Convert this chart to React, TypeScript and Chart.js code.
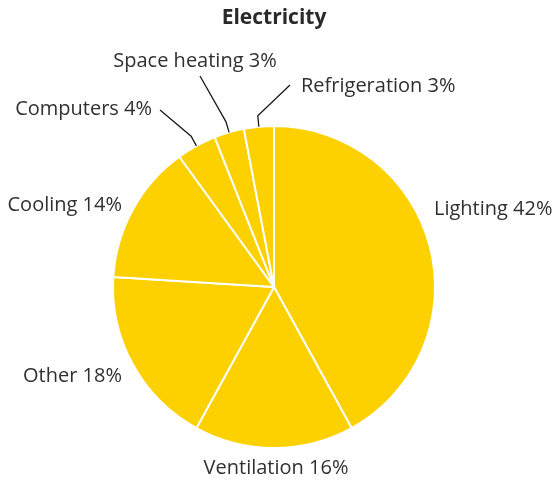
import React, { useEffect, useRef } from "react";
import { Chart, registerables } from "chart.js";

Chart.register(...registerables);

const categories = ["Lighting", "Ventilation", "Other", "Cooling", "Computers", "Space heating", "Refrigeration"];
const shares = [42, 16, 18, 14, 4, 3, 3];
const chartTitle = "Electricity";

// label layout relative to pie centre (px), with alignment and optional leader start
const labelLayout = [
  { dx: 160, dy: -78, align: "left" },
  { dx: 2, dy: 181, align: "center" },
  { dx: -152, dy: 89, align: "right" },
  { dx: -152, dy: -82, align: "right" },
  { dx: -122, dy: -178, align: "right", lx: -114, ly: -177 },
  { dx: -79, dy: -226, align: "center", lx: -74, ly: -211 },
  { dx: 27, dy: -201, align: "left", lx: 16, ly: -202 },
];

const FONT = '"Open Sans", "DejaVu Sans", sans-serif';

const labelPlugin = {
  id: "pieLabels",
  afterDraw(chart: any) {
    const ctx = chart.ctx;
    const meta = chart.getDatasetMeta(0);
    const first = meta.data[0];
    if (!first) return;
    const cx = first.x;
    const cy = first.y;
    ctx.save();
    // title
    ctx.fillStyle = "#2a2a2a";
    ctx.font = `bold 21px ${FONT}`;
    ctx.textAlign = "center";
    ctx.textBaseline = "middle";
    ctx.fillText(chartTitle, cx, 18);

    ctx.font = `20px ${FONT}`;
    meta.data.forEach((arc: any, i: number) => {
      const L = labelLayout[i];
      const text = `${categories[i]} ${shares[i]}%`;
      ctx.fillStyle = "#303030";
      ctx.textAlign = L.align;
      ctx.textBaseline = "middle";
      ctx.fillText(text, cx + L.dx, cy + L.dy);
      if (L.lx !== undefined) {
        const mid = (arc.startAngle + arc.endAngle) / 2;
        const r = arc.outerRadius;
        const ex = cx + Math.cos(mid) * r;
        const ey = cy + Math.sin(mid) * r;
        const bx = cx + Math.cos(mid) * (r + 11);
        const by = cy + Math.sin(mid) * (r + 11);
        ctx.strokeStyle = "#1a1a1a";
        ctx.lineWidth = 1.3;
        ctx.beginPath();
        ctx.moveTo(cx + L.lx, cy + L.ly);
        ctx.lineTo(bx, by);
        ctx.lineTo(ex, ey);
        ctx.stroke();
      }
    });
    ctx.restore();
  },
};

export default function App() {
  const ref = useRef<HTMLCanvasElement>(null);
  useEffect(() => {
    document.body.style.margin = "0";
    const chart = new Chart(ref.current as HTMLCanvasElement, {
      type: "pie",
      data: {
        labels: categories,
        datasets: [
          {
            data: shares,
            backgroundColor: "#FDD000",
            borderColor: "#ffffff",
            borderWidth: 2,
          },
        ],
      },
      options: {
        responsive: false,
        animation: false,
        layout: { padding: { left: 112, right: 117, top: 125, bottom: 31 } },
        plugins: { legend: { display: false }, tooltip: { enabled: false }, title: { display: false } },
      },
      plugins: [labelPlugin],
    });
    return () => chart.destroy();
  }, []);
  return <canvas ref={ref} width={553} height={480} style={{ display: "block" }} />;
}
